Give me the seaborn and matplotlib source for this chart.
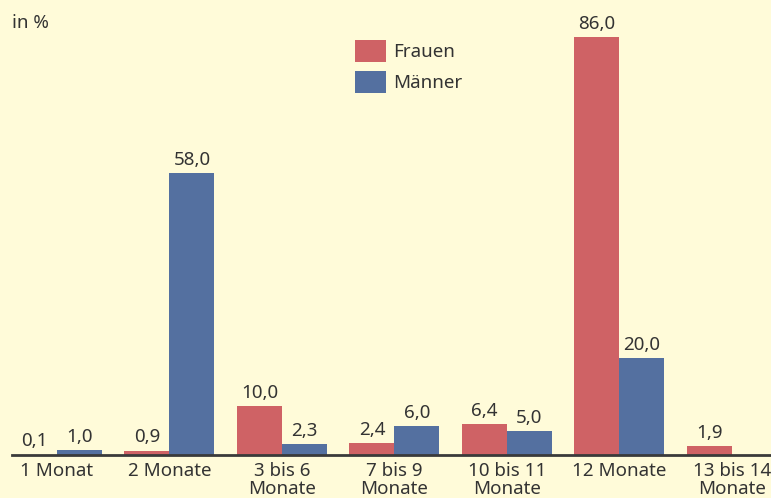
import matplotlib
matplotlib.use("Agg")
import matplotlib.pyplot as plt
import seaborn as sns
import pandas as pd

categories = ["1 Monat", "2 Monate", "3 bis 6\nMonate", "7 bis 9\nMonate",
              "10 bis 11\nMonate", "12 Monate", "13 bis 14\nMonate"]
frauen = [0.1, 0.9, 10.0, 2.4, 6.4, 86.0, 1.9]
maenner = [1.0, 58.0, 2.3, 6.0, 5.0, 20.0, None]
series = ["Frauen", "Männer"]

rows = []
for cat, f, m in zip(categories, frauen, maenner):
    rows.append({"Dauer": cat, "Geschlecht": "Frauen", "Wert": f})
    if m is not None:
        rows.append({"Dauer": cat, "Geschlecht": "Männer", "Wert": m})
df = pd.DataFrame(rows)

bg = "#FFFBD9"
text_color = "#333333"
palette = {"Frauen": "#CF6265", "Männer": "#5470A0"}
fs = 13.5

sns.set_theme(style="white")
plt.rcParams["font.family"] = ["Noto Sans", "DejaVu Sans"]

fig = plt.figure(figsize=(7.71, 4.98), dpi=100, facecolor=bg)
ax = fig.add_axes([12 / 771, 43 / 498, 759 / 771, 455 / 498])
ax.set_facecolor(bg)

sns.barplot(data=df, x="Dauer", y="Wert", hue="Geschlecht", order=categories,
            hue_order=series, palette=palette, width=0.8, saturation=1,
            linewidth=0, ax=ax)

for container in ax.containers:
    vals = [b.get_height() for b in container]
    labels = [f"{v:.1f}".replace(".", ",") for v in vals]
    ax.bar_label(container, labels=labels, padding=3, fontsize=fs,
                 color=text_color)

ax.set_xlim(-0.4, 6.347)
ax.set_ylim(0, 93.6)
for s in ["top", "right", "left"]:
    ax.spines[s].set_visible(False)
ax.spines["bottom"].set_color("#3a3a3a")
ax.spines["bottom"].set_linewidth(2)
ax.set_yticks([])
ax.set_xlabel("")
ax.set_ylabel("")
ax.tick_params(axis="x", length=0, pad=5, labelsize=fs, labelcolor=text_color)
for lbl in ax.get_xticklabels():
    lbl.set_linespacing(1.0)

ax.legend(loc="upper left", bbox_to_anchor=(355 / 771, 1 - 40 / 498),
          bbox_transform=fig.transFigure, frameon=False, fontsize=fs,
          handlelength=1.65, handleheight=1.45, handletextpad=0.4,
          labelspacing=0.45, borderpad=0, borderaxespad=0,
          labelcolor=text_color)

fig.text(12 / 771, 1 - 23 / 498, "in %", fontsize=fs, color=text_color,
         va="center", ha="left")

fig.savefig("out.png", dpi=100, facecolor=bg)
